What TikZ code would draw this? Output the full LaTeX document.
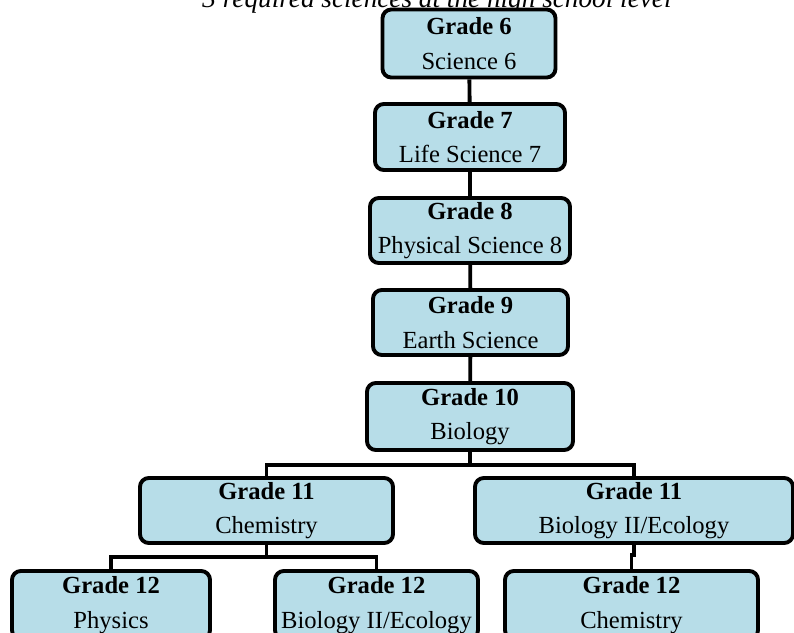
\documentclass[tikz,border=0pt]{standalone}
\usepackage{fontspec}
\setmainfont{Liberation Serif}
\definecolor{boxblue}{HTML}{B7DDE8}
\tikzset{
  grade/.style={draw, rectangle, rounded corners=5pt, line width=2.2pt,
    fill=boxblue, align=center, inner sep=0pt,
    font=\fontsize{14}{19.5}\selectfont},
  link/.style={line width=2.2pt}
}
\newcommand{\gbox}[2]{\textbf{#1}\\#2}
\begin{document}
\begin{tikzpicture}[x=0.02cm,y=-0.02cm]
        % Rahmen
        \useasboundingbox (0,0) rectangle (794,632);
        % Titel
        \node[anchor=base, inner sep=0pt] (titel) at (437,8) {\fontsize{15.5}{18}\selectfont\itshape 3 required sciences at the high school level};
        % Kaesten
        \node[grade, minimum width=173*0.02cm, minimum height=68*0.02cm] (g6) at (469,43.5) {\gbox{Grade 6}{Science 6}};
        \node[grade, minimum width=190*0.02cm, minimum height=66*0.02cm] (g7) at (470,137) {\gbox{Grade 7}{Life Science 7}};
        \node[grade, minimum width=200*0.02cm, minimum height=65*0.02cm] (g8) at (470,230.5) {\gbox{Grade 8}{Physical Science 8}};
        \node[grade, minimum width=195*0.02cm, minimum height=65*0.02cm] (g9) at (470.5,322.5) {\gbox{Grade 9}{Earth Science}};
        \node[grade, minimum width=206*0.02cm, minimum height=67*0.02cm] (g10) at (470,416.5) {\gbox{Grade 10}{Biology}};
        \node[grade, minimum width=253*0.02cm, minimum height=65*0.02cm] (g11c) at (266.5,510.5) {\gbox{Grade 11}{Chemistry}};
        \node[grade, minimum width=318*0.02cm, minimum height=65*0.02cm] (g11b) at (634,510.5) {\gbox{Grade 11}{Biology II/Ecology}};
        \node[grade, minimum width=198*0.02cm, minimum height=68*0.02cm] (g12p) at (111,605) {\gbox{Grade 12}{Physics}};
        \node[grade, minimum width=203*0.02cm, minimum height=68*0.02cm] (g12b) at (376.5,605) {\gbox{Grade 12}{Biology II/Ecology}};
        \node[grade, minimum width=253*0.02cm, minimum height=68*0.02cm] (g12c) at (631.5,605) {\gbox{Grade 12}{Chemistry}};
        % Linien
        \coordinate (bus1) at (0,465);
        \coordinate (bus2) at (0,557);
        \coordinate (bus3) at (0,555);
        \draw [link] (g6) -- (g7);
        \draw [link] (g7) -- (g8);
        \draw [link] (g8) -- (g9);
        \draw [link] (g9) -- (g10);
        \draw [link] (g10.south) -- (g10.south |- bus1);
        \draw [link] (g11c.north) -- (g11c.north |- bus1) -- (g11b.north |- bus1) -- (g11b.north);
        \draw [link] (g11c.south) -- (g11c.south |- bus2);
        \draw [link] (g12p.north) -- (g12p.north |- bus2) -- (g12b.north |- bus2) -- (g12b.north);
        \draw [link] (g11b.south) -- (g11b.south |- bus3) -- (g12c.north |- bus3) -- (g12c.north);
\end{tikzpicture}
\end{document}
